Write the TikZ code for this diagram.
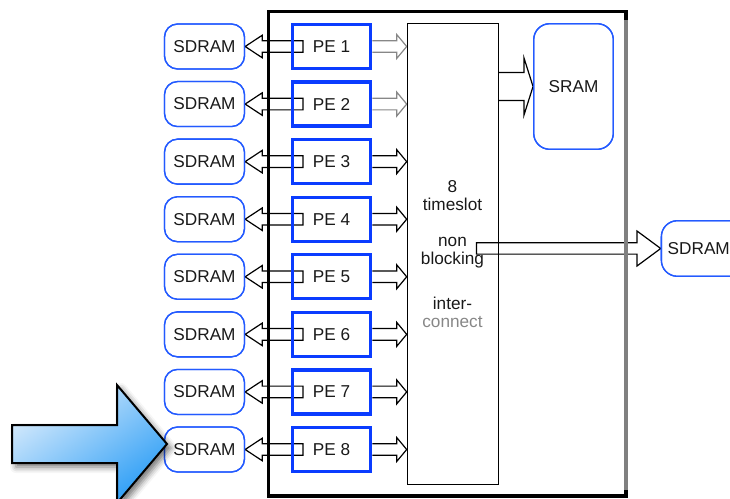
\documentclass[tikz,border=0pt]{standalone}
\usepackage{fontspec}
\setmainfont{Liberation Sans}
\usetikzlibrary{shadows.blur,calc}
\definecolor{peblue}{RGB}{10,60,255}
\definecolor{sdblue}{RGB}{35,90,255}
\definecolor{arrgray}{RGB}{135,135,135}
\definecolor{framegray}{RGB}{128,128,128}
\definecolor{bigtop}{RGB}{218,236,252}
\definecolor{bigbot}{RGB}{45,158,246}
\begin{document}
\begin{tikzpicture}[x=1pt,y=-1pt,
  every node/.style={font=\fontsize{17.2}{18}\selectfont, inner sep=0pt, text=black!90},
  sdbox/.style={draw=sdblue, line width=1.3pt, rounded corners=13pt,
    minimum width=80pt, minimum height=45pt},
  pebox/.style={draw=peblue, line width=3.2pt, minimum width=78.5pt, minimum height=44pt},
  blockarrow/.style={draw=black, fill=white, line width=1.2pt, line join=miter},
  grayarrow/.style={blockarrow, draw=arrgray},
]
\useasboundingbox (0,0) rectangle (730,498);
\clip (0,0) rectangle (730,498);

% memory banks and processing elements, one row per PE
\foreach \i in {1,...,8}{
  \pgfmathsetmacro{\yy}{46.5+57.57*(\i-1)}
  \node[sdbox] (sd\i) at (204.5,\yy) {};
  \node[pebox] (pe\i) at (331.5,\yy) {};
}

% interconnect, on-chip SRAM and external SDRAM
\node[draw, line width=1.2pt, minimum width=91pt, minimum height=461pt] (ic) at (452.8,254) {};
\node[draw=sdblue, line width=1.3pt, rounded corners=16pt,
  minimum width=79.6pt, minimum height=125.6pt] (sram) at (573.5,86.5) {};
\node[draw=sdblue, line width=1.3pt, rounded corners=16pt,
  minimum width=120pt, minimum height=55.6pt, anchor=west] (sdr) at (660.7,248.5) {};

% PE -> SDRAM block arrows
\foreach \i in {1,...,8}{
  \path (pe\i.center) ++(-28.5,0) coordinate (t\i);
  \draw[blockarrow] (t\i) ++(0,-5.8) -| ($(sd\i.east)+(17,-11.2)$)
    -- (sd\i.east) -- ($(sd\i.east)+(17,11.2)$) |- ($(t\i)+(0,5.8)$) -- cycle;
}
% PE -> interconnect block arrows
\foreach \i/\st in {1/grayarrow,2/grayarrow,3/blockarrow,4/blockarrow,
                    5/blockarrow,6/blockarrow,7/blockarrow,8/blockarrow}{
  \coordinate (h\i) at (ic.west |- pe\i.east);
  \draw[\st] ($(pe\i.east)+(0,-5.8)$) -- ($(h\i)+(-10,-5.8)$) -- ($(h\i)+(-10,-12)$)
    -- (h\i) -- ($(h\i)+(-10,12)$) -- ($(h\i)+(-10,5.8)$) -- ($(pe\i.east)+(0,5.8)$);
}
% interconnect -> SRAM
\draw[blockarrow] (ic.east |- 0,72.5) -- (524,72.5) -- (524,58) -- (sram.west)
  -- (524,115) -- (524,100.5) -- (ic.east |- 0,100.5);
% interconnect -> external SDRAM
\coordinate (lt) at (476.5,248.4);
\draw[blockarrow] ($(lt)+(0,-5.7)$) -- (637,242.7) -- (637,231) -- (sdr.west)
  -- (637,266) -- (637,254.1) -- ($(lt)+(0,5.7)$) -- cycle;

% redraw outlines over the arrows
\foreach \i in {1,...,8}{
  \node[sdbox] at (sd\i) {SDRAM};
  \node[pebox] at (pe\i) {PE \i};
}
\node[draw, line width=1.2pt, minimum width=91pt, minimum height=461pt] at (ic) {};
\node[draw=sdblue, line width=1.3pt, rounded corners=16pt,
  minimum width=79.6pt, minimum height=125.6pt] at (sram) {SRAM};
\node[draw=sdblue, line width=1.3pt, rounded corners=16pt,
  minimum width=120pt, minimum height=55.6pt] at (sdr) {};
\node[anchor=west] (sdrtext) at (667.5,248.5) {SDRAM};

% interconnect labels
\node[align=center] (lbla) at (452.5,196) {8\\timeslot};
\node[align=center] (lblb) at (452.5,253) {non\\blocking};
\node[align=center] (lblc) at (452.5,312) {inter-\\\textcolor{arrgray}{connect}};

% chip boundary
\draw[line width=3.5pt, line join=miter] (626,20) -- (626,11.7) -- (268.7,11.7)
  -- (268.7,495.8) -- (626,495.8) -- (626,490);
\draw[framegray, line width=3.5pt] (626,20) -- (626,490);

% highlight arrow
\node[coordinate] (bigtip) at (167,444) {};
\draw[line width=2pt, line join=miter, top color=bigtop, bottom color=bigbot, shading angle=35,
  blur shadow={shadow xshift=4pt, shadow yshift=-4pt, shadow blur radius=6pt, shadow opacity=55}]
  (12,425) -- (117,425) -- (117,385) -- (bigtip) -- (117,503) -- (117,463) -- (12,463) -- cycle;
\end{tikzpicture}
\end{document}
